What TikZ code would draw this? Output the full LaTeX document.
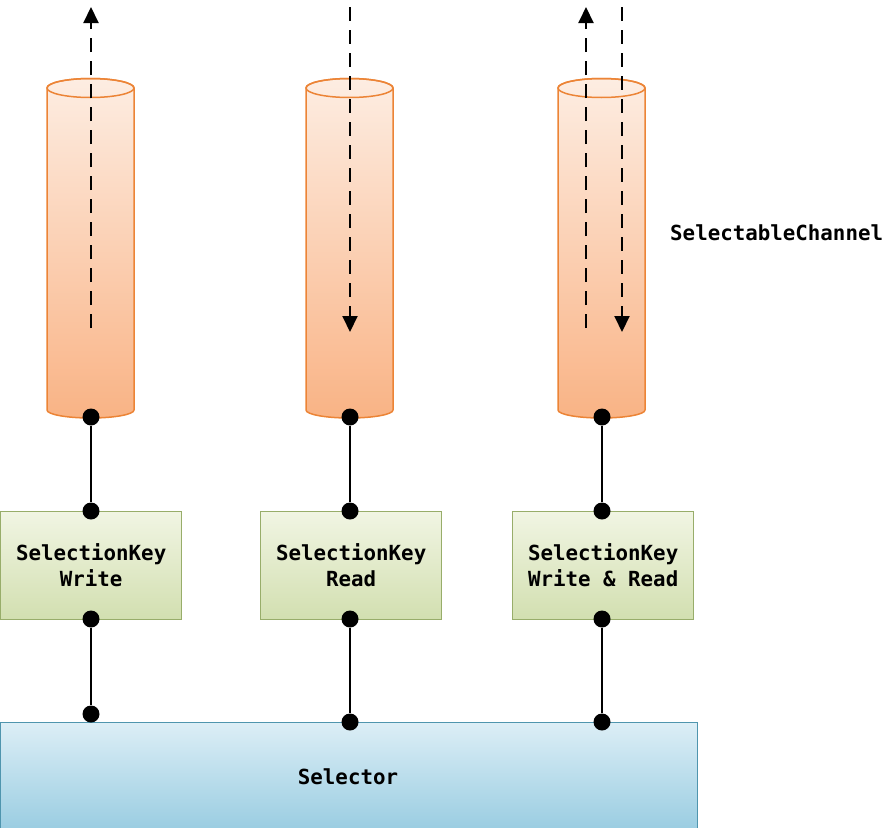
\documentclass[tikz,border=0pt]{standalone}
\usepackage{fontspec}
\setmonofont{DejaVu Sans Mono}
\usetikzlibrary{arrows.meta}
\definecolor{cylEdge}{HTML}{EC8436}
\definecolor{cylTop}{HTML}{FDEDE2}
\definecolor{cylBot}{HTML}{F9B385}
\definecolor{keyEdge}{HTML}{98AD6A}
\definecolor{keyTop}{HTML}{F1F5E3}
\definecolor{keyBot}{HTML}{D2DFB0}
\definecolor{selEdge}{HTML}{4F95AE}
\definecolor{selTop}{HTML}{DCEEF6}
\definecolor{selBot}{HTML}{92C9DF}
\tikzset{
  cyl/.style={draw=cylEdge, line width=1.5pt, top color=cylTop, bottom color=cylBot},
  keybox/.style={draw=keyEdge, line width=1.3pt, top color=keyTop, bottom color=keyBot,
    minimum width=181pt, minimum height=108pt, inner sep=0pt, anchor=north west,
    font=\ttfamily\bfseries\fontsize{20.8}{26}\selectfont, align=center},
  selbox/.style={draw=selEdge, line width=1.3pt, top color=selTop, bottom color=selBot,
    minimum width=697pt, minimum height=120pt, inner sep=0pt, anchor=north west},
  lbl/.style={font=\ttfamily\bfseries\fontsize{20.8}{26}\selectfont, inner sep=0pt},
  link/.style={line width=1.8pt},
  flow/.style={line width=2pt, dash pattern=on 14pt off 9pt, -{Triangle[length=16pt,width=15pt]}},
  dot/.style={circle, fill=black, inner sep=0pt, minimum size=17pt}
}
\begin{document}
\begin{tikzpicture}[x=1pt,y=-1pt]
\useasboundingbox (0,0) rectangle (896,827);
% cylinders
\foreach \cx/\nm in {90.5/A,349.5/B,601.5/C}{
  \path[cyl] (\cx-43.5,88) -- (\cx-43.5,410) arc[start angle=180,end angle=0,x radius=43.5,y radius=8] -- (\cx+43.5,88) arc[start angle=0,end angle=-180,x radius=43.5,y radius=9.5] -- cycle;
  \draw[cylEdge, line width=1.5pt] (\cx,88) ellipse[x radius=43.5,y radius=9.5];
}
% selector (clip bottom at picture edge)
\begin{scope}
\clip (-5,-5) rectangle (901,827);
\node[selbox] (sel) at (0,722) {};
\end{scope}
\node[lbl] (selText) at (348,777) {Selector};
% key boxes
\node[keybox] (k1) at (0,511) {SelectionKey\\Write};
\node[keybox] (k2) at (260,511) {SelectionKey\\Read};
\node[keybox] (k3) at (512,511) {SelectionKey\\Write \& Read};
% label
\node[lbl, anchor=west] (chan) at (670,233) {SelectableChannel};
% dots
\node[dot] (c1) at (91,417) {};
\node[dot] (c2) at (350,417) {};
\node[dot] (c3) at (602,417) {};
\node[dot] (k1t) at (91,511) {};
\node[dot] (k2t) at (350,511) {};
\node[dot] (k3t) at (602,511) {};
\node[dot] (k1b) at (91,619) {};
\node[dot] (k2b) at (350,619) {};
\node[dot] (k3b) at (602,619) {};
\node[dot] (s1) at (91,714) {};
\node[dot] (s2) at (350,722) {};
\node[dot] (s3) at (602,722) {};
% links
\draw[link] (c1) -- (k1t);
\draw[link] (c2) -- (k2t);
\draw[link] (c3) -- (k3t);
\draw[link] (k1b) -- (s1);
\draw[link] (k2b) -- (s2);
\draw[link] (k3b) -- (s3);
% flow arrows
\coordinate (u1a) at (91,328);
\coordinate (u1b) at (91,7);
\coordinate (d2a) at (350,7);
\coordinate (d2b) at (350,332);
\coordinate (u3a) at (586,328);
\coordinate (u3b) at (586,7);
\coordinate (d3a) at (622,7);
\coordinate (d3b) at (622,332);
\draw[flow] (u1a) -- (u1b);
\draw[flow] (d2a) -- (d2b);
\draw[flow] (u3a) -- (u3b);
\draw[flow] (d3a) -- (d3b);
\end{tikzpicture}
\end{document}
